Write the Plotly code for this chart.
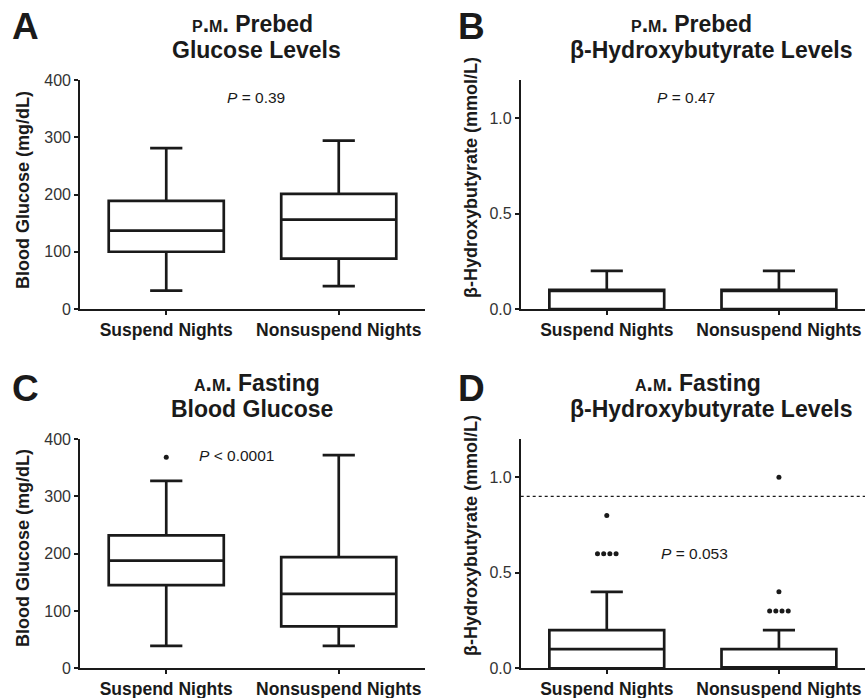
import plotly.graph_objects as go
from collections import Counter

W, H = 865, 698

categories = ["Suspend Nights", "Nonsuspend Nights"]

# Panel A: p.m. prebed glucose (mg/dL)  [lowerfence, q1, median, q3, upperfence]
a_suspend = [32, 100, 137, 189, 281]
a_nonsuspend = [40, 88, 156, 201, 294]
a_outliers = [[], []]
a_p = "<i>P</i> = 0.39"

# Panel B: p.m. prebed beta-hydroxybutyrate (mmol/L)
b_suspend = [0.0, 0.0, 0.1, 0.1, 0.2]
b_nonsuspend = [0.0, 0.0, 0.1, 0.1, 0.2]
b_outliers = [[], []]
b_p = "<i>P</i> = 0.47"

# Panel C: a.m. fasting glucose (mg/dL)
c_suspend = [39, 145, 188, 232, 327]
c_nonsuspend = [39, 73, 130, 194, 372]
c_outliers = [[368], []]
c_p = "<i>P</i> < 0.0001"

# Panel D: a.m. fasting beta-hydroxybutyrate (mmol/L)
d_suspend = [0.0, 0.0, 0.1, 0.2, 0.4]
d_nonsuspend = [0.0, 0.0, 0.0, 0.1, 0.2]
d_outliers = [[0.8, 0.6, 0.6, 0.6, 0.6], [1.0, 0.4, 0.3, 0.3, 0.3, 0.3]]
d_p = "<i>P</i> = 0.053"
d_threshold = 0.9

glucose_ticks = [0, 100, 200, 300, 400]
bhb_ticks = [0.0, 0.5, 1.0]

FONT = "Liberation Sans, Arial, Helvetica, sans-serif"
INK = "#1a1a1a"


def px(x, y):
    return x / W, 1 - y / H


fig = go.Figure()

panels = [
    ("x", "y", [a_suspend, a_nonsuspend], a_outliers),
    ("x2", "y2", [b_suspend, b_nonsuspend], b_outliers),
    ("x3", "y3", [c_suspend, c_nonsuspend], c_outliers),
    ("x4", "y4", [d_suspend, d_nonsuspend], d_outliers),
]

for xa, ya, stats, outl in panels:
    for i, s in enumerate(stats):
        fig.add_trace(go.Box(
            x=[i], lowerfence=[s[0]], q1=[s[1]], median=[s[2]], q3=[s[3]],
            upperfence=[s[4]], width=0.667, whiskerwidth=0.28,
            line=dict(color=INK, width=2.7), fillcolor="white",
            boxpoints=False, xaxis=xa, yaxis=ya, showlegend=False,
            hoverinfo="skip",
        ))
        if outl[i]:
            cnt = Counter(outl[i])
            xs, ys = [], []
            for v, n in cnt.items():
                for k in range(n):
                    xs.append(i + (k - (n - 1) / 2) * 0.036)
                    ys.append(v)
            fig.add_trace(go.Scatter(
                x=xs, y=ys, mode="markers", marker=dict(color=INK, size=5),
                xaxis=xa, yaxis=ya, showlegend=False, hoverinfo="skip",
                cliponaxis=False,
            ))

xl_left = [80 / W, 425 / W]
xl_right = [520.7 / W, 1.0]
y_top = [1 - 309 / H, 1 - 80 / H]
y_bot = [1 - 668.3 / H, 1 - 439 / H]

xcommon = dict(
    range=[-0.5, 1.5], tickvals=list(range(len(categories))),
    ticktext=["<b>%s</b>" % c for c in categories],
    showline=True, linecolor=INK, linewidth=1.6, ticks="outside", ticklen=4,
    tickwidth=1.6, tickcolor=INK, showgrid=False, zeroline=False,
    tickfont=dict(family=FONT, size=17.5, color=INK), fixedrange=True,
    ticklabelstandoff=0, automargin=False,
)
ycommon = dict(
    showline=True, linecolor=INK, linewidth=1.6, ticks="outside", ticklen=4,
    tickwidth=1.6, tickcolor=INK, showgrid=False, zeroline=False,
    tickfont=dict(family=FONT, size=16, color="#333333"), fixedrange=True,
    ticklabelstandoff=0, automargin=False,
)

fig.update_layout(
    width=W, height=H, margin=dict(l=0, r=0, t=0, b=0, autoexpand=False),
    paper_bgcolor="white", plot_bgcolor="white",
    font=dict(family=FONT, color=INK),
    xaxis=dict(domain=xl_left, anchor="y", **xcommon),
    xaxis2=dict(domain=xl_right, anchor="y2", **xcommon),
    xaxis3=dict(domain=xl_left, anchor="y3", **xcommon),
    xaxis4=dict(domain=xl_right, anchor="y4", **xcommon),
    yaxis=dict(domain=y_top, anchor="x", range=[0, 400], tickvals=glucose_ticks, **ycommon),
    yaxis2=dict(domain=y_top, anchor="x2", range=[0, 1.2], tickvals=bhb_ticks, tickformat=".1f", **ycommon),
    yaxis3=dict(domain=y_bot, anchor="x3", range=[0, 400], tickvals=glucose_ticks, **ycommon),
    yaxis4=dict(domain=y_bot, anchor="x4", range=[0, 1.2], tickvals=bhb_ticks, tickformat=".1f", **ycommon),
)

fig.add_shape(type="line", xref="x4 domain", yref="y4", x0=0, x1=1,
              y0=d_threshold, y1=d_threshold,
              line=dict(color=INK, width=1.3, dash="dot"))

ann = []


def text(x, y, t, size, **kw):
    xp, yp = px(x, y)
    ann.append(dict(x=xp, y=yp, xref="paper", yref="paper", text=t,
                    showarrow=False, xanchor="center", yanchor="middle",
                    font=dict(family=FONT, size=size, color=INK), **kw))


# panel letters
for lt, (lx, ly) in zip("ABCD", [(25, 26), (471, 26), (25, 388), (471, 388)]):
    text(lx, ly, "<b>%s</b>" % lt, 37)

sc = "<span style='font-size:16px'>%s</span>"
pm = "<b>" + sc % "P" + "." + sc % "M" + ". Prebed</b>"
am = "<b>" + sc % "A" + "." + sc % "M" + ". Fasting</b>"
TS = 23
text(252, 24, pm, TS)
text(256, 50, "<b>Glucose Levels</b>", TS)
text(691, 24, pm, TS)
text(711, 50, "<b>β-Hydroxybutyrate Levels</b>", TS)
text(257, 383, am, TS)
text(252, 409, "<b>Blood Glucose</b>", TS)
text(698, 383, am, TS)
text(711, 409, "<b>β-Hydroxybutyrate Levels</b>", TS)

# axis titles
AS = 18
text(23, 190, "<b>Blood Glucose (mg/dL)</b>", AS, textangle=-90)
text(471, 178, "<b>β-Hydroxybutyrate (mmol/L)</b>", AS, textangle=-90)
text(23, 548, "<b>Blood Glucose (mg/dL)</b>", AS, textangle=-90)
text(471, 536, "<b>β-Hydroxybutyrate (mmol/L)</b>", AS, textangle=-90)

# P values in data coordinates
for xr, yr, t, xv, yv in [("x", "y", a_p, 0.523, 370), ("x2", "y2", b_p, 0.463, 1.107),
                          ("x3", "y3", c_p, 0.408, 372), ("x4", "y4", d_p, 0.512, 0.60)]:
    ann.append(dict(x=xv, y=yv, xref=xr, yref=yr, text=t, showarrow=False,
                    xanchor="center", yanchor="middle",
                    font=dict(family=FONT, size=15.5, color=INK)))

fig.update_layout(annotations=ann)
fig.write_html(
    "out.html",
    config={"displayModeBar": False},
    post_script="document.body.style.margin='0';document.body.style.overflow='hidden';",
)
